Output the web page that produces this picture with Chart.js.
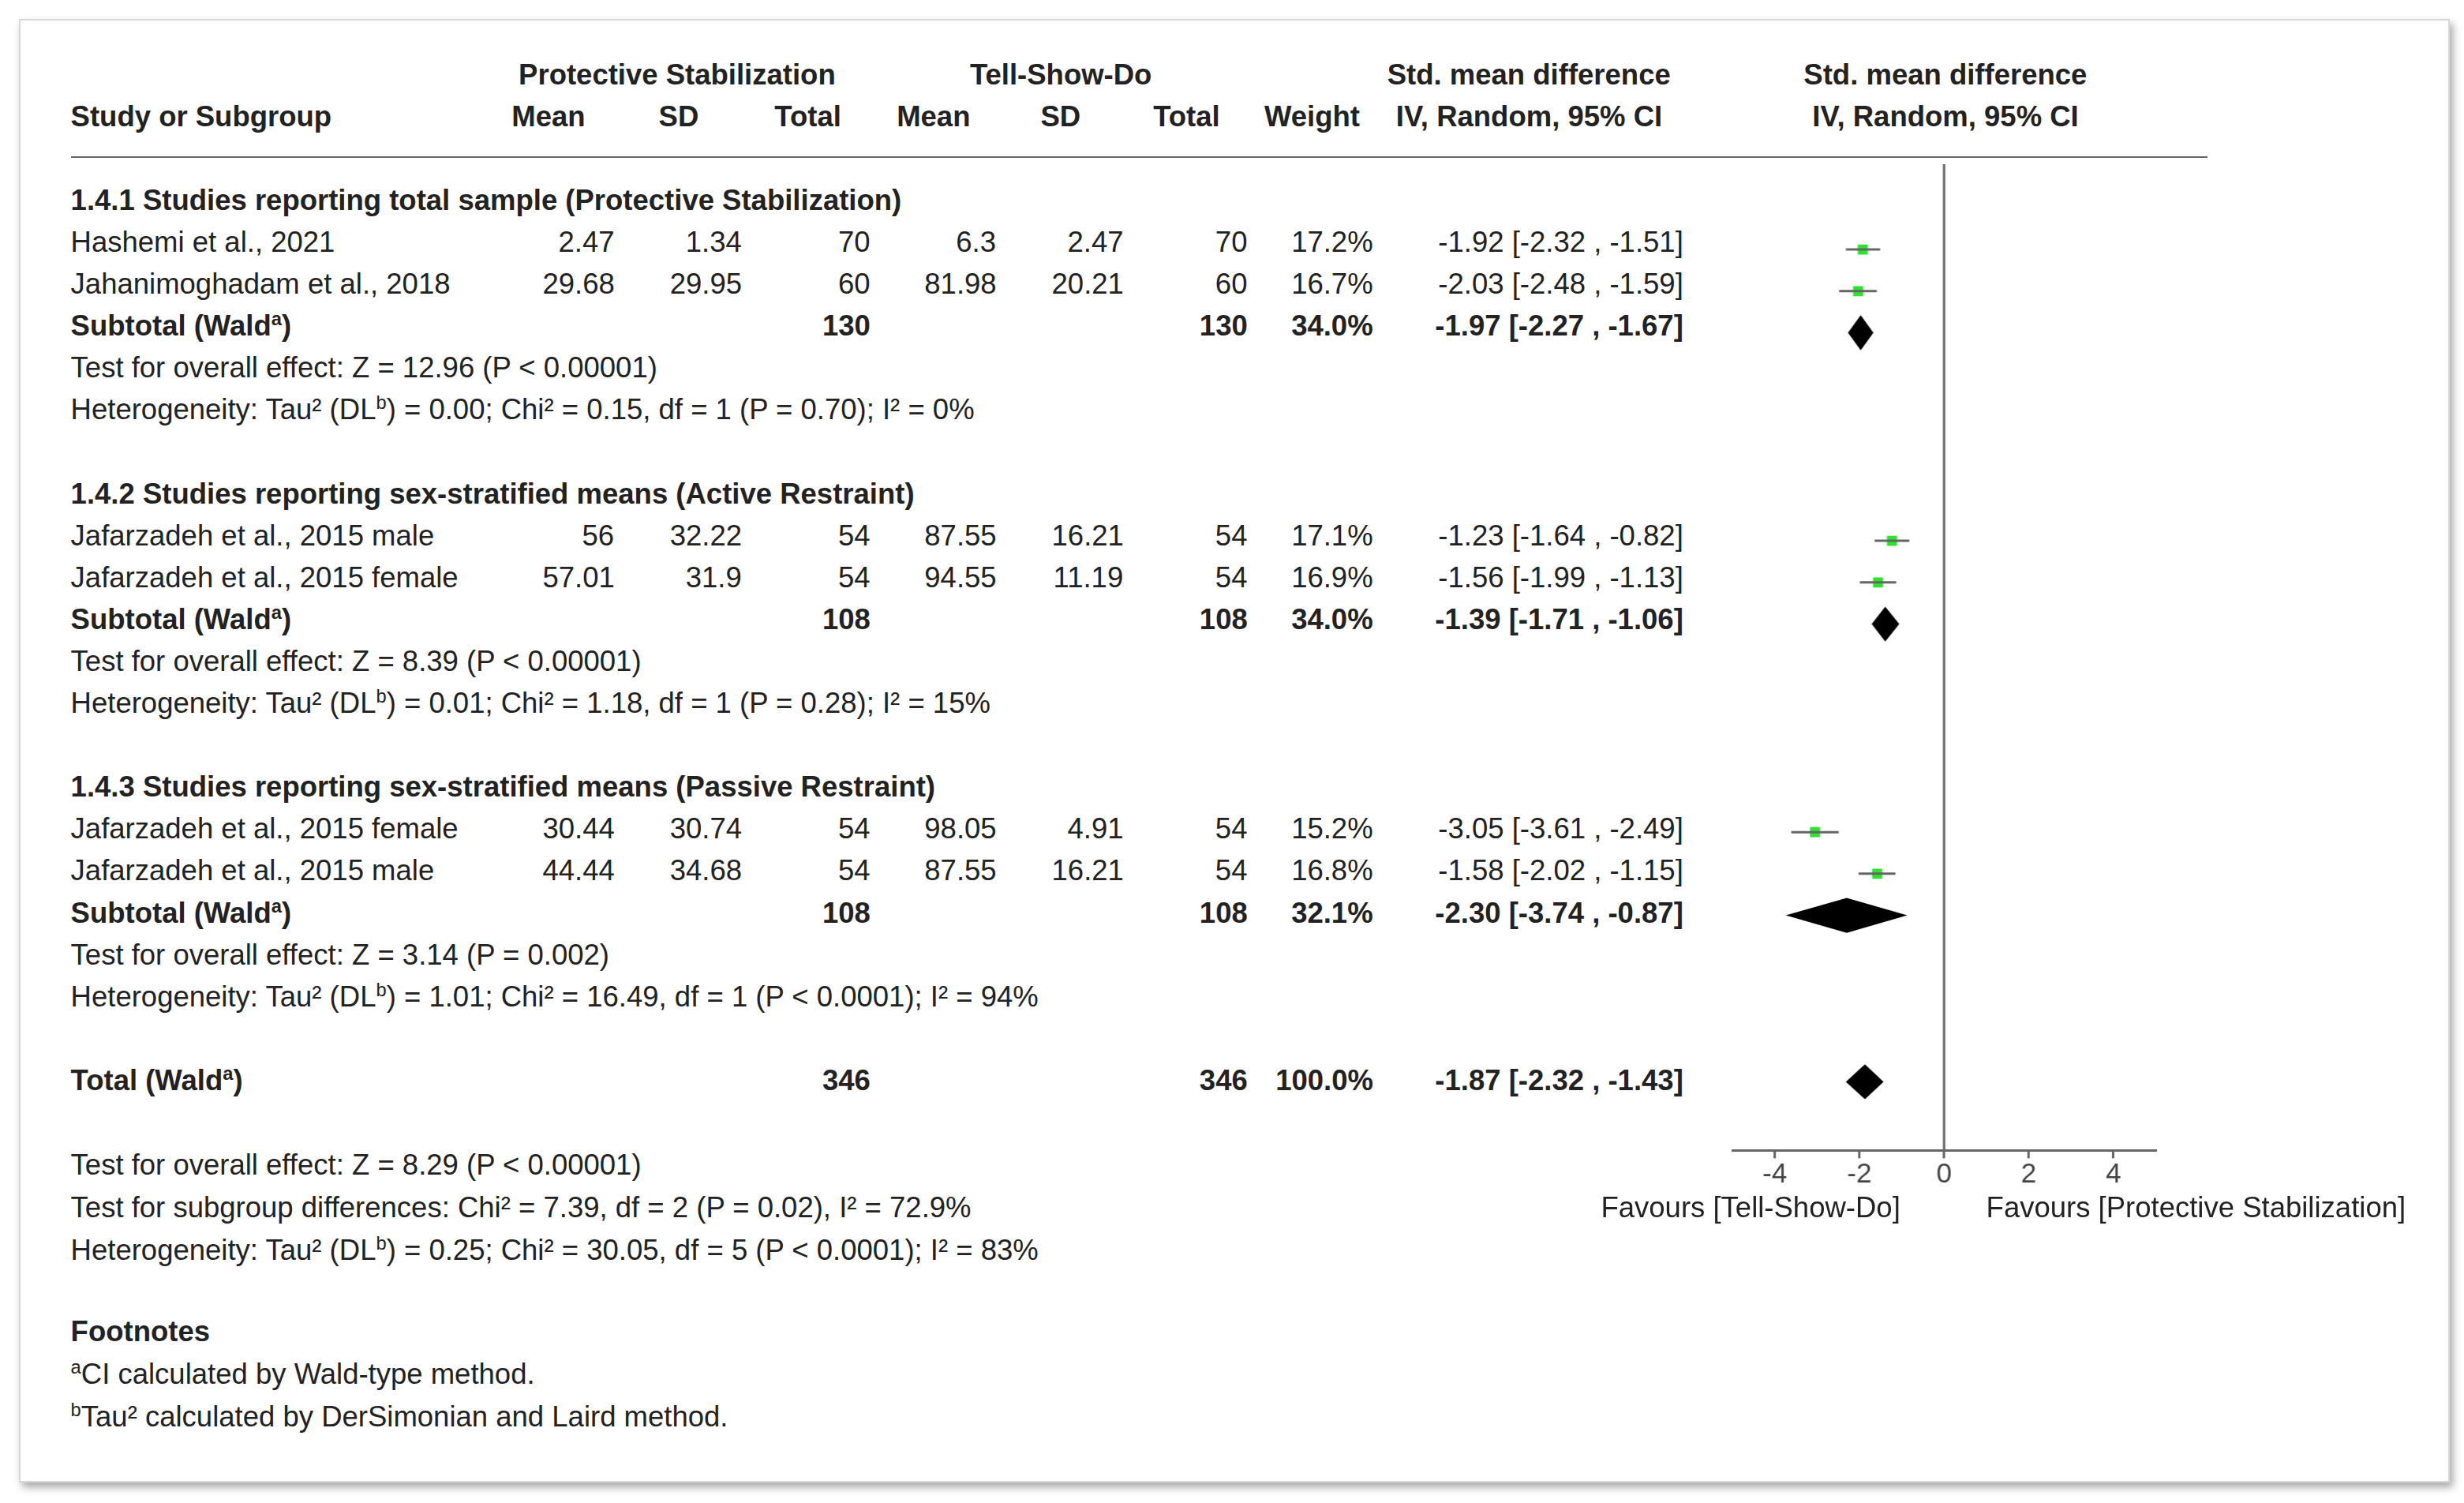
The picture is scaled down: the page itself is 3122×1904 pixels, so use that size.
<!DOCTYPE html>
<html>
<head>
<meta charset="utf-8">
<script src="https://cdn.jsdelivr.net/npm/chart.js@4.4.0/dist/chart.umd.min.js"></script>
<style>
  html, body { margin: 0; padding: 0; background: #fff; }
  body { width: 3122px; height: 1904px; position: relative; overflow: hidden; font-family: "Liberation Sans", Arial, sans-serif; color: #222; }
  #card { position: absolute; left: 24px; top: 24px; width: 3076px; height: 1850px; background: #fff;
          border: 2px solid #d8d8d8; box-shadow: 4px 6px 10px rgba(0,0,0,0.35); }
  .t { position: absolute; white-space: nowrap; font-size: 36.5px; line-height: 1; }
  .b { font-weight: bold; }
  sup { font-size: 0.65em; vertical-align: 0.55em; line-height: 0; }
  #plotBox { position: absolute; }
</style>
</head>
<body>
<div id="card"></div>
<div id="plotBox"><canvas id="forest"></canvas></div>
<script>
// scale from reference preview units to page pixels
const S = 1.991;

// Study rows
const studyNames = ['Hashemi et al., 2021', 'Jahanimoghadam et al., 2018', 'Jafarzadeh et al., 2015 male', 'Jafarzadeh et al., 2015 female', 'Jafarzadeh et al., 2015 female', 'Jafarzadeh et al., 2015 male'];
const psMean = ['2.47', '29.68', '56', '57.01', '30.44', '44.44'];
const psSD = ['1.34', '29.95', '32.22', '31.9', '30.74', '34.68'];
const psTotal = [70, 60, 54, 54, 54, 54];
const tsdMean = ['6.3', '81.98', '87.55', '94.55', '98.05', '87.55'];
const tsdSD = ['2.47', '20.21', '16.21', '11.19', '4.91', '16.21'];
const tsdTotal = [70, 60, 54, 54, 54, 54];
const studyWeight = ['17.2%', '16.7%', '17.1%', '16.9%', '15.2%', '16.8%'];
const studyEst = [-1.92, -2.03, -1.23, -1.56, -3.05, -1.58];
const studyLo = [-2.32, -2.48, -1.64, -1.99, -3.61, -2.02];
const studyHi = [-1.51, -1.59, -0.82, -1.13, -2.49, -1.15];
const studyRow = [1, 2, 8, 9, 15, 16];

// Subtotals + total
const subLabels = ['Subtotal (Wald<sup>a</sup>)', 'Subtotal (Wald<sup>a</sup>)', 'Subtotal (Wald<sup>a</sup>)', 'Total (Wald<sup>a</sup>)'];
const subPsTotal = [130, 108, 108, 346];
const subTsdTotal = [130, 108, 108, 346];
const subWeight = ['34.0%', '34.0%', '32.1%', '100.0%'];
const subEst = [-1.97, -1.39, -2.30, -1.87];
const subLo = [-2.27, -1.71, -3.74, -2.32];
const subHi = [-1.67, -1.06, -0.87, -1.43];
const subRow = [3, 10, 17, 21];

const groupTitles = ['1.4.1 Studies reporting total sample (Protective Stabilization)', '1.4.2 Studies reporting sex-stratified means (Active Restraint)', '1.4.3 Studies reporting sex-stratified means (Passive Restraint)'];
const groupRow = [0, 7, 14];
const groupTests = ['Test for overall effect: Z = 12.96 (P &lt; 0.00001)', 'Test for overall effect: Z = 8.39 (P &lt; 0.00001)', 'Test for overall effect: Z = 3.14 (P = 0.002)'];
const groupHet = ['Heterogeneity: Tau² (DL<sup>b</sup>) = 0.00; Chi² = 0.15, df = 1 (P = 0.70); I² = 0%', 'Heterogeneity: Tau² (DL<sup>b</sup>) = 0.01; Chi² = 1.18, df = 1 (P = 0.28); I² = 15%', 'Heterogeneity: Tau² (DL<sup>b</sup>) = 1.01; Chi² = 16.49, df = 1 (P &lt; 0.0001); I² = 94%'];
const totalNotes = ['Test for overall effect: Z = 8.29 (P &lt; 0.00001)', 'Test for subgroup differences: Chi² = 7.39, df = 2 (P = 0.02), I² = 72.9%', 'Heterogeneity: Tau² (DL<sup>b</sup>) = 0.25; Chi² = 30.05, df = 5 (P &lt; 0.0001); I² = 83%'];
const footnotes = ['<b>Footnotes</b>', '<sup>a</sup>CI calculated by Wald-type method.', '<sup>b</sup>Tau² calculated by DerSimonian and Laird method.'];

const xTicks = [-4, -2, 0, 2, 4];

// layout (preview units)
const rowY0 = 128, rowH = 26.67;
const colRight = { psMean: 391, psSD: 472, psTotal: 554, tsdMean: 634, tsdSD: 715, tsdTotal: 794, weight: 874, ci: 1071 };
const fmt = v => (v < 0 ? '-' : '') + Math.abs(v).toFixed(2);
const ciText = (e, l, h) => `${fmt(e)} [${fmt(l)} , ${fmt(h)}]`;

function txt(x, y, html, align, bold) {
    const d = document.createElement('div');
    d.className = 't' + (bold ? ' b' : '');
    d.innerHTML = html;
    document.body.appendChild(d);
    const w = d.offsetWidth;
    let left = x * S;
    if (align === 'right') left -= w;
    if (align === 'center') left -= w / 2;
    d.style.left = left + 'px';
    d.style.top = (y * S - 19) + 'px';
    return d;
}
const rowYOf = r => rowY0 + r * rowH;

// headers
txt(431, 48, 'Protective Stabilization', 'center', true);
txt(675, 48, 'Tell-Show-Do', 'center', true);
txt(973, 48, 'Std. mean difference', 'center', true);
txt(1238, 48, 'Std. mean difference', 'center', true);
txt(45, 75, 'Study or Subgroup', 'left', true);
txt(349, 75, 'Mean', 'center', true);
txt(432, 75, 'SD', 'center', true);
txt(514, 75, 'Total', 'center', true);
txt(594, 75, 'Mean', 'center', true);
txt(675, 75, 'SD', 'center', true);
txt(755, 75, 'Total', 'center', true);
txt(835, 75, 'Weight', 'center', true);
txt(973, 75, 'IV, Random, 95% CI', 'center', true);
txt(1238, 75, 'IV, Random, 95% CI', 'center', true);

const hr = document.createElement('div');
hr.style.cssText = `position:absolute;left:${45 * S}px;top:${100 * S - 1}px;width:${(1405 - 45) * S}px;height:2px;background:#666`;
document.body.appendChild(hr);

groupTitles.forEach((g, i) => {
    const r = groupRow[i];
    txt(45, rowYOf(r), g, 'left', true);
    txt(45, rowYOf(r + 4), groupTests[i]);
    txt(45, rowYOf(r + 5), groupHet[i]);
});

studyNames.forEach((n, i) => {
    const y = rowYOf(studyRow[i]);
    txt(45, y, n);
    txt(colRight.psMean, y, psMean[i], 'right');
    txt(colRight.psSD, y, psSD[i], 'right');
    txt(colRight.psTotal, y, psTotal[i], 'right');
    txt(colRight.tsdMean, y, tsdMean[i], 'right');
    txt(colRight.tsdSD, y, tsdSD[i], 'right');
    txt(colRight.tsdTotal, y, tsdTotal[i], 'right');
    txt(colRight.weight, y, studyWeight[i], 'right');
    txt(colRight.ci, y, ciText(studyEst[i], studyLo[i], studyHi[i]), 'right');
});

subLabels.forEach((n, i) => {
    const y = rowYOf(subRow[i]);
    txt(45, y, n, 'left', true);
    txt(colRight.psTotal, y, subPsTotal[i], 'right', true);
    txt(colRight.tsdTotal, y, subTsdTotal[i], 'right', true);
    txt(colRight.weight, y, subWeight[i], 'right', true);
    txt(colRight.ci, y, ciText(subEst[i], subLo[i], subHi[i]), 'right', true);
});

totalNotes.forEach((n, i) => txt(45, 742 + i * 27, n));
footnotes.forEach((n, i) => txt(45, 848 + i * 27, n));

txt(1114, 769, 'Favours [Tell-Show-Do]', 'center');
txt(1264, 769, 'Favours [Protective Stabilization]', 'left');

// forest plot
const plotLeft = 1098, plotRight = 1376, plotTop = 100, plotBottom = 732;
const axisH = 70;
const box = document.getElementById('plotBox');
box.style.left = (plotLeft * S) + 'px';
box.style.top = (plotTop * S) + 'px';
box.style.width = ((plotRight - plotLeft) * S) + 'px';
box.style.height = ((plotBottom - plotTop) * S + axisH) + 'px';

const yMin = (plotTop - rowY0) / rowH;
const yMax = (plotBottom - rowY0) / rowH;

const ciPoints = [];
studyRow.forEach((r, i) => {
    ciPoints.push({ x: studyLo[i], y: r }, { x: studyHi[i], y: r }, { x: null, y: null });
});
const estPoints = studyRow.map((r, i) => ({ x: studyEst[i], y: r }));

const diamondPlugin = {
    id: 'diamonds',
    afterDatasetsDraw(chart) {
        const { ctx, scales: { x, y } } = chart;
        const hh = 0.42;
        ctx.save();
        ctx.fillStyle = '#000';
        subRow.forEach((r, i) => {
            ctx.beginPath();
            ctx.moveTo(x.getPixelForValue(subLo[i]), y.getPixelForValue(r));
            ctx.lineTo(x.getPixelForValue(subEst[i]), y.getPixelForValue(r - hh));
            ctx.lineTo(x.getPixelForValue(subHi[i]), y.getPixelForValue(r));
            ctx.lineTo(x.getPixelForValue(subEst[i]), y.getPixelForValue(r + hh));
            ctx.closePath();
            ctx.fill();
        });
        ctx.restore();
    }
};

new Chart(document.getElementById('forest'), {
    type: 'scatter',
    data: {
        datasets: [
            { data: [{ x: 0, y: yMin }, { x: 0, y: yMax }], showLine: true, borderColor: '#666', borderWidth: 3, pointRadius: 0 },
            { data: ciPoints, showLine: true, spanGaps: false, borderColor: '#666', borderWidth: 3, pointRadius: 0 },
            { data: estPoints, pointStyle: 'rect', pointRadius: 9, backgroundColor: '#2ee32e', borderColor: '#2ee32e', borderWidth: 0 }
        ]
    },
    options: {
        responsive: true,
        maintainAspectRatio: false,
        animation: false,
        layout: { padding: 0 },
        plugins: { legend: { display: false }, tooltip: { enabled: false } },
        scales: {
            x: {
                type: 'linear', min: -5, max: 5,
                afterFit: s => { s.height = axisH; },
                afterBuildTicks: s => { s.ticks = xTicks.map(v => ({ value: v })); },
                grid: { drawOnChartArea: false, tickLength: 10, color: '#666', lineWidth: 3 },
                border: { color: '#666', width: 3 },
                ticks: { color: '#444', padding: 0, font: { family: 'Liberation Sans', size: 35 } }
            },
            y: {
                type: 'linear', min: yMin, max: yMax, reverse: true, display: false
            }
        }
    },
    plugins: [diamondPlugin]
});
</script>
</body>
</html>
